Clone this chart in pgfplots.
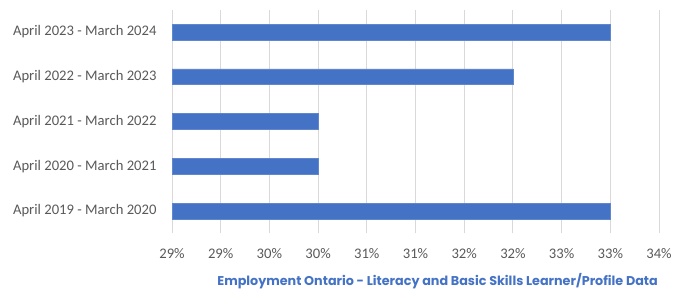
\documentclass[border=0pt]{standalone}
\usepackage{pgfplots}
\pgfplotsset{compat=1.18}
\usepackage{fontspec}
\setmainfont{Carlito}
\newfontfamily\capfont{Poppins}
\definecolor{barblue}{HTML}{4472C4}
\definecolor{txtgray}{HTML}{595959}
\definecolor{gridgray}{HTML}{D9D9D9}
\begin{document}
\begin{tikzpicture}[x=1bp,y=1bp]
\useasboundingbox (0,0) rectangle (686,292);
\begin{axis}[
  at={(172bp,58.6bp)}, anchor=south west,
  scale only axis, width=487bp, height=223.8bp,
  xbar, bar width=15.7bp,
  xmin=28.75, xmax=33.75,
  ymin=-0.5, ymax=4.5,
  xtick={28.75,29.25,29.75,30.25,30.75,31.25,31.75,32.25,32.75,33.25,33.75},
  xticklabels={29\%,29\%,30\%,30\%,31\%,31\%,32\%,32\%,33\%,33\%,34\%},
  ytick={0,1,2,3,4},
  yticklabels={April 2019 - March 2020,April 2020 - March 2021,April 2021 - March 2022,April 2022 - March 2023,April 2023 - March 2024},
  axis line style={draw=none},
  major tick length=0pt,
  xmajorgrids, major grid style={gridgray, line width=0.9bp},
  tick label style={font=\fontsize{14.7}{17}\selectfont, text=txtgray},
  xticklabel style={yshift=-11.5bp},
  yticklabel style={xshift=-12bp},
  /pgf/number format/assume math mode=true,
  clip=false,
]
\addplot[fill=barblue, draw=barblue!85!white, line width=0.5bp] coordinates {
  (33.25,0) (30.25,1) (30.25,2) (32.25,3) (33.25,4)};
\end{axis}
\node[anchor=east, text=barblue, font=\capfont\bfseries\fontsize{12.8}{14}\selectfont, inner sep=0pt] at (658,11) {Employment Ontario - Literacy and Basic Skills Learner/Profile Data};
\end{tikzpicture}
\end{document}
